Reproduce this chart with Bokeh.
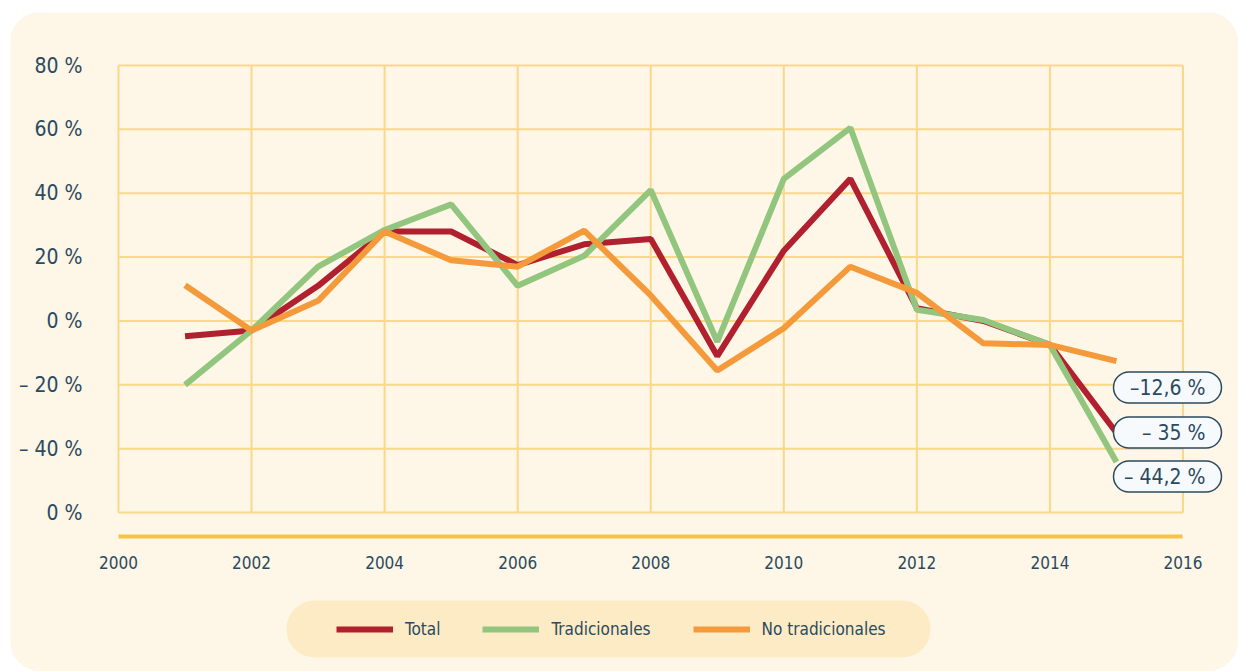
from bokeh.plotting import figure
from bokeh.models import (Range1d, FixedTicker, Legend, LegendItem, Label,
                          BoxAnnotation, ColumnDataSource, InlineStyleSheet)
from bokeh.embed import file_html
from bokeh.resources import INLINE

# ---------------- data ----------------
years = [2001, 2002, 2003, 2004, 2005, 2006, 2007, 2008,
         2009, 2010, 2011, 2012, 2013, 2014, 2015]
total = [-4.8, -3.0, 11.0, 28.0, 28.0, 17.5, 24.0, 25.7,
         -11.0, 22.0, 44.5, 4.0, 0.0, -7.5, -35.0]
tradicionales = [-20.0, -3.0, 17.0, 28.5, 36.5, 11.0, 20.4, 41.0,
                 -6.5, 44.5, 60.5, 3.5, 0.3, -7.5, -44.2]
no_tradicionales = [11.2, -3.0, 6.3, 28.0, 19.0, 17.0, 28.3, 8.0,
                    -15.5, -2.3, 17.0, 8.8, -7.0, -7.5, -12.6]

series_names = ["Total", "Tradicionales", "No tradicionales"]
end_labels = ["\u201312,6 %", "\u2013 35 %", "\u2013 44,2 %"]

x_ticks = [2000, 2002, 2004, 2006, 2008, 2010, 2012, 2014, 2016]
x_tick_labels = ["2000", "2002", "2004", "2006", "2008", "2010", "2012", "2014", "2016"]
y_ticks = [-60, -40, -20, 0, 20, 40, 60, 80]
y_tick_labels = ["0 %", "\u2013 40 %", "\u2013 20 %", "0 %", "20 %", "40 %", "60 %", "80 %"]

# ---------------- style ----------------
FONT = "'DejaVu Sans Condensed', 'DejaVu Sans', sans-serif"
TXT = "#2B4A5F"
PANEL = "#FEF6E6"
LEGEND_BG = "#FCEBC5"
GRID = "#F9D889"
AXIS = "#F4C542"
C_TOTAL = "#B0202E"
C_TRAD = "#92C67E"
C_NOTRAD = "#F49A3B"

# page geometry (panel starts at page x=10, y=12)
OX, OY = 10, 12
W, H = 1238 - OX, 671 - OY
GRID_L, GRID_T = 118, 65            # page px of x=2000 / y=80
PX_PER_YEAR = 66.53
PX_PER_PCT = 3.1932

def px2x(px):
    return 2000 + (px - GRID_L) / PX_PER_YEAR
def px2y(py):
    return 80 - (py - GRID_T) / PX_PER_PCT

AXIS_Y = -67.5                      # where the x axis line sits
AXIS_X = 2000                       # where the (invisible) y axis sits

p = figure(width=W, height=H,
           x_range=Range1d(px2x(OX), px2x(1238)), y_range=Range1d(px2y(671), px2y(OY)),
           output_backend="svg", toolbar_location=None,
           min_border_left=0, min_border_right=0, min_border_top=0, min_border_bottom=0,
           background_fill_color=PANEL, border_fill_color=PANEL,
           margin=(OY, 0, 0, OX))
p.stylesheets = [InlineStyleSheet(css=":host { border-radius: 30px; overflow: hidden; }")]
p.outline_line_color = None
p.xgrid.visible = False
p.ygrid.visible = False

# grid lines drawn from the tick lists
gx0, gx1 = min(x_ticks), max(x_ticks)
gy0, gy1 = min(y_ticks), max(y_ticks)
p.segment(x0=x_ticks, y0=[gy0] * len(x_ticks), x1=x_ticks, y1=[gy1] * len(x_ticks),
          line_color=GRID, line_width=2)
p.segment(x0=[gx0] * len(y_ticks), y0=y_ticks, x1=[gx1] * len(y_ticks), y1=y_ticks,
          line_color=GRID, line_width=2)

src = ColumnDataSource(dict(year=years, total=total, trad=tradicionales, notrad=no_tradicionales))
r_total = p.line("year", "total", source=src, line_color=C_TOTAL, line_width=6)
r_trad = p.line("year", "trad", source=src, line_color=C_TRAD, line_width=6)
r_notrad = p.line("year", "notrad", source=src, line_color=C_NOTRAD, line_width=6)

# x axis, drawn inside the frame at a fixed location
xa = p.xaxis[0]
xa.fixed_location = AXIS_Y
xa.bounds = (gx0, gx1)
xa.ticker = FixedTicker(ticks=x_ticks)
xa.major_label_overrides = {t: l for t, l in zip(x_ticks, x_tick_labels)}
xa.axis_line_color = AXIS
xa.axis_line_width = 4
xa.major_tick_line_color = None
xa.minor_tick_line_color = None
xa.major_tick_out = 0
xa.major_tick_in = 0
xa.major_label_standoff = 20
xa.major_label_text_font = FONT
xa.major_label_text_font_size = "17px"
xa.major_label_text_color = TXT

ya = p.yaxis[0]
ya.fixed_location = AXIS_X
ya.ticker = FixedTicker(ticks=y_ticks)
ya.major_label_overrides = {t: l for t, l in zip(y_ticks, y_tick_labels)}
ya.axis_line_color = None
ya.major_tick_line_color = None
ya.minor_tick_line_color = None
ya.major_tick_out = 0
ya.major_tick_in = 0
ya.major_label_standoff = 36
ya.major_label_text_font = FONT
ya.major_label_text_font_size = "21px"
ya.major_label_text_color = TXT

# legend background (rounded)
p.add_layout(BoxAnnotation(left=px2x(286), right=px2x(930), top=px2y(600), bottom=px2y(657),
                           fill_color=LEGEND_BG, fill_alpha=1, line_color=None,
                           border_radius=28, level="underlay"))

legend = Legend(items=[LegendItem(label=series_names[0], renderers=[r_total]),
                       LegendItem(label=series_names[1], renderers=[r_trad]),
                       LegendItem(label=series_names[2], renderers=[r_notrad])],
                orientation="horizontal", location=(337 - OX - 1, 671 - 639),
                padding=10, spacing=42, glyph_width=57, glyph_height=20, label_height=20,
                label_standoff=12, background_fill_alpha=0, border_line_color=None,
                label_text_font=FONT, label_text_font_size="17px", label_text_color=TXT)
p.add_layout(legend, "center")

# end-value pills
pill_centers = [387, 432, 476]
for txt, cy in zip(end_labels, pill_centers):
    p.add_layout(BoxAnnotation(left=px2x(1113), right=px2x(1221), top=px2y(cy - 15.5),
                               bottom=px2y(cy + 15.5), fill_color="#F7FAFC", fill_alpha=1,
                               line_color=TXT, line_width=1.5, line_alpha=1, border_radius=16))
    p.add_layout(Label(x=px2x(1205), y=px2y(cy), text=txt, text_align="right",
                       text_baseline="middle", text_font=FONT, text_font_size="21px",
                       text_color=TXT))

open("out.html", "w").write(file_html(p, INLINE))
